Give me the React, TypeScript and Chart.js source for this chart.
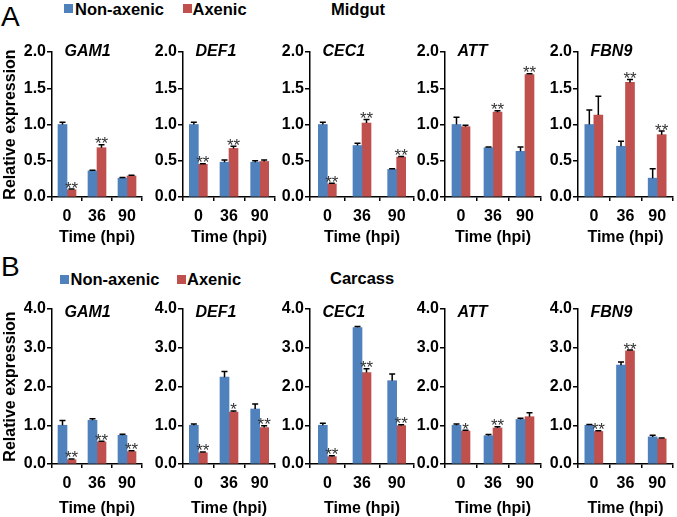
import React, { useEffect, useRef } from 'react';
import { Chart, registerables } from 'chart.js';

Chart.register(...registerables);

const FONT = '"Liberation Sans", Arial, Helvetica, sans-serif';

const timeLabels = ['0', '36', '90'];
const geneNames = ['GAM1', 'DEF1', 'CEC1', 'ATT', 'FBN9'];
const seriesNames = ['Non-axenic', 'Axenic'];
const seriesColors = ['#4F81BD', '#C0504D'];

// Panel A – Midgut
const midgutNonAxenic = [
  [1.0, 0.36, 0.26],
  [1.0, 0.48, 0.48],
  [1.0, 0.71, 0.38],
  [1.0, 0.68, 0.63],
  [1.0, 0.70, 0.26],
];
const midgutNonAxenicErr = [
  [0.03, 0.01, 0.01],
  [0.03, 0.03, 0.02],
  [0.03, 0.03, 0.01],
  [0.10, 0.01, 0.06],
  [0.20, 0.07, 0.13],
];
const midgutAxenic = [
  [0.10, 0.68, 0.29],
  [0.45, 0.67, 0.49],
  [0.18, 1.02, 0.55],
  [0.97, 1.17, 1.69],
  [1.13, 1.58, 0.86],
];
const midgutAxenicErr = [
  [0.01, 0.04, 0.01],
  [0.01, 0.03, 0.02],
  [0.01, 0.05, 0.01],
  [0.02, 0.02, 0.01],
  [0.26, 0.04, 0.05],
];
const midgutSig = [
  ['**', '**', ''],
  ['**', '**', ''],
  ['**', '**', '**'],
  ['', '**', '**'],
  ['', '**', '**'],
];
const midgutYMax = 2;
const midgutYStep = 0.5;

// Panel B – Carcass
const carcassNonAxenic = [
  [1.0, 1.13, 0.74],
  [1.0, 2.24, 1.42],
  [1.0, 3.52, 2.15],
  [1.0, 0.73, 1.15],
  [1.0, 2.55, 0.70],
];
const carcassNonAxenicErr = [
  [0.12, 0.04, 0.03],
  [0.03, 0.15, 0.13],
  [0.05, 0.03, 0.17],
  [0.03, 0.03, 0.03],
  [0.02, 0.08, 0.04],
];
const carcassAxenic = [
  [0.11, 0.57, 0.32],
  [0.29, 1.34, 0.94],
  [0.19, 2.36, 0.99],
  [0.85, 0.93, 1.22],
  [0.84, 2.92, 0.65],
];
const carcassAxenicErr = [
  [0.02, 0.02, 0.02],
  [0.02, 0.03, 0.05],
  [0.02, 0.10, 0.02],
  [0.02, 0.03, 0.10],
  [0.02, 0.02, 0.02],
];
const carcassSig = [
  ['**', '**', '**'],
  ['**', '*', '**'],
  ['**', '**', '**'],
  ['*', '**', ''],
  ['**', '**', ''],
];
const carcassYMax = 4;
const carcassYStep = 1;

// Layout
const axisX = [52, 183, 310, 445, 578];
const plotW = [90, 92, 104, 96, 95];
const rows = [
  { plotTop: 52, plotBottom: 197, xH: 50, geneDy: 0, non: midgutNonAxenic, nonErr: midgutNonAxenicErr, ax: midgutAxenic, axErr: midgutAxenicErr, sig: midgutSig, yMax: midgutYMax, yStep: midgutYStep },
  { plotTop: 309, plotBottom: 464, xH: 54, geneDy: 4, non: carcassNonAxenic, nonErr: carcassNonAxenicErr, ax: carcassAxenic, axErr: carcassAxenicErr, sig: carcassSig, yMax: carcassYMax, yStep: carcassYStep },
];
const PAD_TOP = 14;
const PAD_RIGHT = 3;

const extrasPlugin = {
  id: 'extras',
  afterDatasetsDraw(chart: any, _args: any, opts: any) {
    const ctx = chart.ctx;
    const y = chart.scales.y;
    ctx.save();
    ctx.strokeStyle = '#000';
    ctx.lineWidth = 1.5;
    (opts.errors as number[][]).forEach((errs, di) => {
      const meta = chart.getDatasetMeta(di);
      meta.data.forEach((bar: any, i: number) => {
        const v = chart.data.datasets[di].data[i] as number;
        const yTop = y.getPixelForValue(v + errs[i]);
        ctx.beginPath();
        ctx.moveTo(bar.x, bar.y);
        ctx.lineTo(bar.x, yTop);
        ctx.moveTo(bar.x - 3, yTop);
        ctx.lineTo(bar.x + 3, yTop);
        ctx.stroke();
      });
    });
    const meta = chart.getDatasetMeta(1);
    ctx.font = '17px ' + FONT;
    ctx.fillStyle = '#333';
    ctx.textAlign = 'center';
    ctx.textBaseline = 'alphabetic';
    (opts.sig as string[]).forEach((s, i) => {
      if (!s) return;
      const bar = meta.data[i];
      const v = chart.data.datasets[1].data[i] as number;
      const yTop = y.getPixelForValue(v + opts.errors[1][i]);
      ctx.fillText(s, bar.x, yTop + 4.5);
    });
    ctx.font = 'italic bold 16px ' + FONT;
    ctx.fillStyle = '#000';
    ctx.textAlign = 'left';
    ctx.textBaseline = 'middle';
    ctx.fillText(opts.gene, chart.chartArea.left + 12.5, chart.chartArea.top + opts.geneDy);
    ctx.restore();
  },
};

type Spec = {
  key: string;
  left: number;
  top: number;
  width: number;
  height: number;
  yWidth: number;
  xH: number;
  yTitle: boolean;
  gene: string;
  geneDy: number;
  non: number[];
  nonErr: number[];
  ax: number[];
  axErr: number[];
  sig: string[];
  yMax: number;
  yStep: number;
};

const specs: Spec[] = [];
rows.forEach((r, ri) => {
  geneNames.forEach((g, gi) => {
    const yWidth = gi === 0 ? axisX[0] : 40;
    const left = axisX[gi] - yWidth;
    const width = Math.round(yWidth + plotW[gi] + PAD_RIGHT);
    const top = r.plotTop - PAD_TOP;
    const height = PAD_TOP + (r.plotBottom - r.plotTop) + r.xH;
    specs.push({
      key: `${ri}-${gi}`,
      left, top, width, height, yWidth, xH: r.xH,
      yTitle: gi === 0,
      gene: g, geneDy: r.geneDy,
      non: r.non[gi], nonErr: r.nonErr[gi], ax: r.ax[gi], axErr: r.axErr[gi], sig: r.sig[gi],
      yMax: r.yMax, yStep: r.yStep,
    });
  });
});

function BarPanel({ spec }: { spec: Spec }) {
  const ref = useRef<HTMLCanvasElement | null>(null);
  useEffect(() => {
    if (!ref.current) return;
    const chart = new Chart(ref.current, {
      type: 'bar',
      data: {
        labels: timeLabels,
        datasets: [
          { label: seriesNames[0], data: spec.non, backgroundColor: seriesColors[0], barThickness: 9, borderWidth: 0 },
          { label: seriesNames[1], data: spec.ax, backgroundColor: seriesColors[1], barThickness: 9, borderWidth: 0 },
        ],
      },
      options: {
        responsive: false,
        animation: false,
        devicePixelRatio: 1,
        layout: { padding: { top: PAD_TOP, right: PAD_RIGHT, left: 0, bottom: 0 } },
        plugins: {
          legend: { display: false },
          tooltip: { enabled: false },
          extras: { errors: [spec.nonErr, spec.axErr], sig: spec.sig, gene: spec.gene, geneDy: spec.geneDy },
        } as any,
        scales: {
          x: {
            type: 'category',
            offset: true,
            grid: { offset: true, drawOnChartArea: false, drawTicks: true, tickLength: 4, color: '#000', lineWidth: 1.5 },
            border: { display: true, color: '#000', width: 1.5 },
            ticks: { color: '#000', font: { family: FONT, size: 16, weight: 'bold' }, padding: 6, maxRotation: 0, autoSkip: false },
            title: { display: true, text: 'Time (hpi)', color: '#000', font: { family: FONT, size: 16, weight: 'bold' }, padding: { top: 0, bottom: 0 } },
            afterFit: (s: any) => { s.height = spec.xH; },
          },
          y: {
            min: 0,
            max: spec.yMax,
            grid: { drawOnChartArea: false, drawTicks: true, tickLength: 5, color: '#000', lineWidth: 1.5 },
            border: { display: true, color: '#000', width: 1.5 },
            ticks: {
              stepSize: spec.yStep,
              color: '#000',
              padding: 1,
              font: { family: FONT, size: 16, weight: 'bold' },
              callback: (v: any) => Number(v).toFixed(1),
            },
            title: {
              display: spec.yTitle,
              text: 'Relative expression',
              color: '#000',
              font: { family: FONT, size: 16, weight: 'bold' },
              padding: { top: 1, bottom: 0 },
            },
            afterFit: (s: any) => { s.width = spec.yWidth; },
          },
        },
      } as any,
      plugins: [extrasPlugin as any],
    });
    return () => chart.destroy();
  }, [spec]);
  return (
    <canvas
      ref={ref}
      width={spec.width}
      height={spec.height}
      style={{ position: 'absolute', left: spec.left, top: spec.top, width: spec.width, height: spec.height }}
    />
  );
}

const txt = (left: number, top: number, size: number, text: string, weight: any = 'bold') => (
  <div style={{ position: 'absolute', left, top, fontSize: size, lineHeight: `${size}px`, fontWeight: weight, whiteSpace: 'nowrap', color: '#000' }}>{text}</div>
);
const sq = (left: number, top: number, color: string) => (
  <div style={{ position: 'absolute', left, top, width: 9, height: 9, background: color }} />
);

export default function App() {
  return (
    <div style={{ position: 'absolute', left: 0, top: 0, width: 677, height: 517, overflow: 'hidden', background: '#fff', fontFamily: FONT }}>
      {txt(1, 3, 28, 'A', 'normal')}
      {sq(63.5, 4, seriesColors[0])}
      {txt(75, 0.5, 16.5, seriesNames[0])}
      {sq(182.5, 4, seriesColors[1])}
      {txt(192.5, 0.5, 16.5, seriesNames[1])}
      {txt(331, 1, 16.5, 'Midgut')}

      {txt(1, 253, 28, 'B', 'normal')}
      {sq(60, 275, seriesColors[0])}
      {txt(70.5, 271, 16.5, seriesNames[0])}
      {sq(176.5, 275, seriesColors[1])}
      {txt(187, 271, 16.5, seriesNames[1])}
      {txt(330, 269.5, 16.5, 'Carcass')}

      {specs.map((s) => <BarPanel key={s.key} spec={s} />)}
    </div>
  );
}
